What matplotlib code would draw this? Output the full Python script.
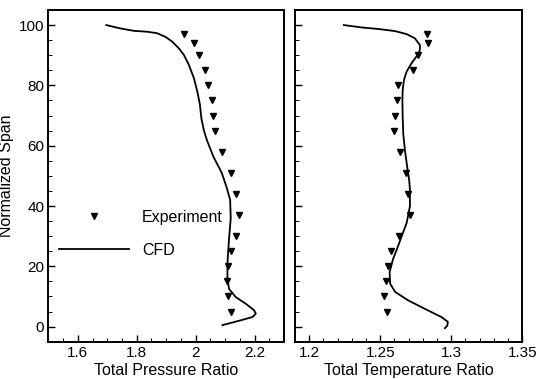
import matplotlib
matplotlib.use("Agg")
import matplotlib.pyplot as plt
from matplotlib.ticker import MultipleLocator

plt.rcParams['font.family'] = ['Liberation Sans', 'DejaVu Sans']

# Experiment spans (shared)
exp_span = [97, 94, 90, 85, 80, 75, 70, 65, 58, 51, 44, 37, 30, 25, 20, 15, 10, 5]
exp_pressure = [1.961, 1.995, 2.013, 2.032, 2.041, 2.055, 2.058, 2.066, 2.090, 2.120,
                2.137, 2.147, 2.137, 2.119, 2.111, 2.106, 2.109, 2.120]
exp_temperature = [1.2826, 1.2837, 1.2767, 1.2728, 1.2626, 1.2619, 1.2607, 1.2600, 1.2642,
                   1.2681, 1.2697, 1.2709, 1.2635, 1.2577, 1.2554, 1.2540, 1.2526, 1.2547]

# CFD profiles
cfd_p_span = [100.0, 98.9, 98.1, 97.8, 97.3, 96.1, 94.5, 92.3, 90.1, 86.8, 82.4, 78.0, 73.6,
              69.2, 65.0, 61.9, 56.4, 50.9, 45.9, 42.0, 36.0, 28.8, 23.0, 19.1, 15.8, 12.5,
              9.8, 7.6, 5.4, 4.3, 3.2, 2.1, 0.5]
cfd_pressure = [1.6966, 1.7443, 1.7896, 1.8353, 1.8693, 1.8976, 1.9204, 1.9429, 1.9600,
                1.9770, 1.9940, 2.0056, 2.0145, 2.0192, 2.028, 2.038, 2.060, 2.089, 2.106,
                2.117, 2.119, 2.113, 2.109, 2.1078, 2.1078, 2.1133, 2.136, 2.170, 2.1985,
                2.204, 2.193, 2.153, 2.091]

cfd_t_span = [100.0, 99.2, 98.7, 98.0, 97.0, 95.6, 93.4, 91.7, 90.1, 87.4, 84.6, 81.8, 78.5,
              75.0, 69.5, 64.0, 58.4, 52.9, 48.5, 45.4, 39.9, 34.4, 30.0, 26.0, 22.4, 18.1,
              14.2, 11.5, 8.7, 5.9, 3.2, 1.6, 0.3, -0.5]
cfd_temperature = [1.2244, 1.2372, 1.2488, 1.2605, 1.2686, 1.2744, 1.2779, 1.2779, 1.2763,
                   1.2721, 1.2686, 1.2667, 1.2658, 1.2656, 1.2658, 1.2662, 1.2674, 1.2690,
                   1.2704, 1.2709, 1.2709, 1.2686, 1.2651, 1.2620, 1.2590, 1.2566, 1.2570,
                   1.2605, 1.2697, 1.2814, 1.2930, 1.2976, 1.2972, 1.2955]

fig = plt.figure(figsize=(5.36, 3.79), dpi=100)
ax1 = fig.add_axes([0.0901, 0.0984, 0.4399, 0.8752])
ax2 = fig.add_axes([0.5504, 0.0984, 0.4240, 0.8752])

for ax in (ax1, ax2):
    for s in ax.spines.values():
        s.set_linewidth(1.4)
    ax.set_ylim(-5, 105)
    ax.yaxis.set_major_locator(MultipleLocator(20))
    ax.yaxis.set_minor_locator(MultipleLocator(5))
    ax.tick_params(which='both', direction='in', top=False, right=False, width=1.0,
                   labelsize=11, pad=3)
    ax.tick_params(which='major', length=5)
    ax.tick_params(which='minor', length=3, width=0.7)

ms = 5
ax1.plot(exp_pressure, exp_span, linestyle='none', marker='v', color='black', markersize=ms,
         label='Experiment')
ax1.plot(cfd_pressure, cfd_p_span, color='black', linewidth=1.3, label='CFD')
ax1.set_xlim(1.5, 2.3)
ax1.xaxis.set_minor_locator(MultipleLocator(0.05))
ax1.set_xticks([1.6, 1.8, 2.0, 2.2])
ax1.set_xticklabels(['1.6', '1.8', '2', '2.2'])
ax1.set_xlabel('Total Pressure Ratio', fontsize=11.5, labelpad=2)
ax1.set_ylabel('Normalized Span', fontsize=11.5, labelpad=3)

ax2.plot(exp_temperature, exp_span, linestyle='none', marker='v', color='black', markersize=ms)
ax2.plot(cfd_temperature, cfd_t_span, color='black', linewidth=1.3)
ax2.set_xlim(1.19, 1.35)
ax2.set_xticks([1.2, 1.25, 1.3, 1.35])
ax2.set_xticklabels(['1.2', '1.25', '1.3', '1.35'])
ax2.xaxis.set_minor_locator(MultipleLocator(0.01))
ax2.tick_params(axis='y', labelleft=False)
ax2.set_xlabel('Total Temperature Ratio', fontsize=11.5, labelpad=2)

ax1.legend(loc='upper left', bbox_to_anchor=(0.045, 0.397), frameon=False, fontsize=11.5,
           handlelength=4.4, handletextpad=0.8, labelspacing=1.1, borderpad=0, borderaxespad=0)

fig.savefig('out.png', dpi=100)
